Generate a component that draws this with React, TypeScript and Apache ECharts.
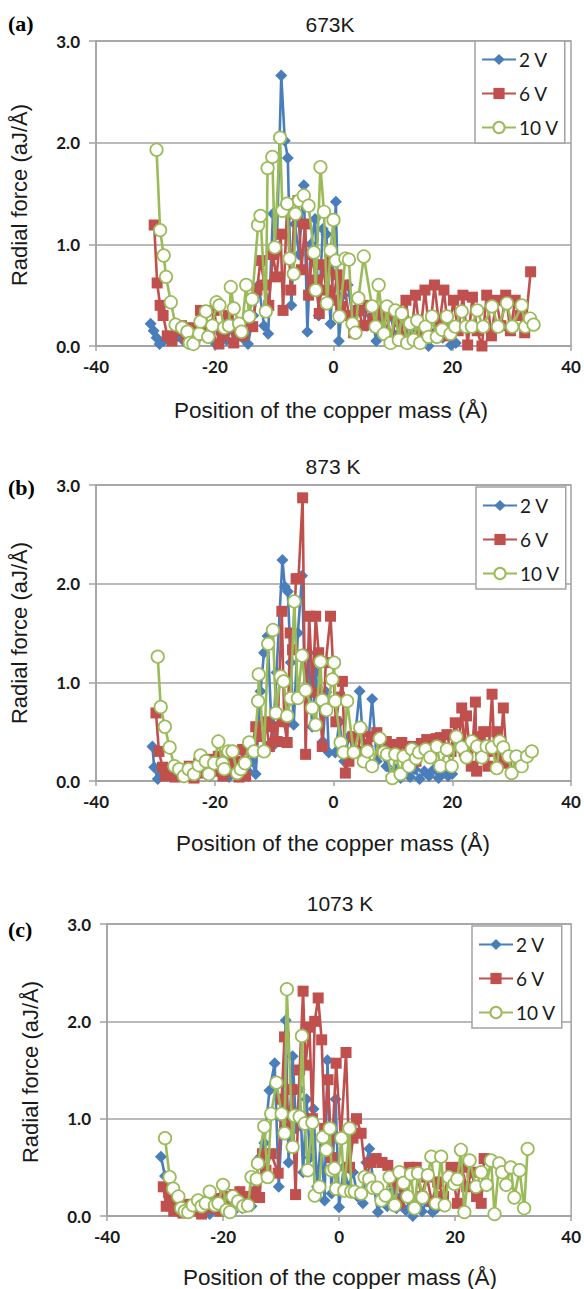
import React, { useEffect, useRef } from "react";
import * as echarts from "echarts";

// ---------- data (x in Å, radial force in aJ/Å) ----------
const legendNames = ["2 V", "6 V", "10 V"];
const panelTitles = ["673K", "873 K", "1073 K"];
const panelLetters = ["(a)", "(b)", "(c)"];
const xTicks = { min: -40, max: 40, step: 20 };
const yTicks = { min: 0, max: 3, step: 1 };

const a2V = [[-30.8,0.22],[-30.3,0.15],[-29.8,0.08],[-29.3,0.02],[-28.6,0.05],[-27.8,0.08],[-27,0.06],[-26.1,0.1],[-25.2,0.05],[-24.3,0.12],[-23.4,0.04],[-22.5,0.1],[-21.6,0.15],[-20.7,0.08],[-19.8,0.02],[-18.9,0.12],[-18,0.06],[-17.1,0.18],[-16.2,0.1],[-15.3,0.08],[-14.4,0.02],[-13.5,0.3],[-12.6,0.6],[-11.7,0.2],[-11.0,0.12],[-10.2,1.3],[-9.5,1.1],[-8.8,2.66],[-8.2,2.02],[-7.7,1.85],[-7.1,0.4],[-6.5,1.2],[-5.8,0.9],[-5.0,1.58],[-4.4,0.14],[-3.8,1.0],[-3.1,1.25],[-2.5,0.3],[-1.8,1.15],[-1.2,1.1],[-0.5,0.22],[0.4,1.42],[0.9,0.05],[1.6,0.5],[2.4,0.6],[3.2,0.3],[4.0,0.45],[4.8,0.35],[5.6,0.2],[6.4,0.3],[7.2,0.05],[8.0,0.25],[8.8,0.15],[9.6,0.3],[10.4,0.1],[11.2,0.2],[12.0,0.05],[12.8,0.15],[13.6,0.25],[14.4,0.1],[15.2,0.18],[16.0,0.0],[16.8,0.12],[17.6,0.2],[18.4,0.08],[19.2,0.15],[19.8,0.01],[20.6,0.03]];
const a6V = [[-30.2,1.19],[-29.7,0.62],[-29.2,0.4],[-28.7,0.3],[-28.0,0.1],[-27.2,0.05],[-26.4,0.15],[-25.6,0.2],[-24.8,0.08],[-24.0,0.18],[-23.2,0.1],[-22.4,0.35],[-21.6,0.2],[-20.8,0.12],[-20.1,0.35],[-19.3,0.02],[-18.5,0.1],[-17.7,0.3],[-16.8,0.03],[-16.0,0.15],[-15.2,0.1],[-14.4,0.25],[-13.6,0.19],[-12.9,0.55],[-12.3,0.84],[-11.6,0.6],[-10.9,0.4],[-10.2,0.9],[-9.6,0.68],[-8.9,1.1],[-8.5,0.35],[-7.8,1.4],[-7.2,0.55],[-6.6,1.3],[-6.0,1.43],[-5.4,0.75],[-4.8,1.2],[-4.2,0.5],[-3.6,0.9],[-3.0,0.65],[-2.4,0.32],[-1.8,0.8],[-1.2,0.55],[-0.6,0.9],[0.0,0.45],[0.6,0.7],[1.2,0.39],[1.8,0.6],[2.6,0.3],[3.4,0.13],[4.2,0.35],[5.0,0.2],[5.8,0.4],[6.6,0.25],[7.4,0.35],[8.2,0.15],[9.0,0.3],[9.8,0.05],[10.6,0.35],[11.4,0.1],[12.2,0.45],[13.0,0.05],[13.8,0.5],[14.6,0.12],[15.4,0.55],[16.2,0.1],[17.0,0.6],[17.8,0.2],[18.6,0.55],[19.4,0.1],[20.2,0.45],[21.0,0.15],[21.8,0.5],[22.6,0.01],[23.4,0.48],[24.2,0.15],[25.0,0.0],[25.8,0.5],[26.6,0.1],[27.4,0.45],[28.2,0.2],[29.0,0.5],[29.8,0.15],[30.6,0.45],[31.4,0.3],[32.2,0.13],[33.2,0.73]];
const a10V = [[-29.8,1.93],[-29.2,1.14],[-28.6,0.89],[-28.2,0.68],[-27.4,0.43],[-26.6,0.21],[-25.5,0.18],[-24.6,0.14],[-24.2,0.03],[-23.6,0.02],[-22.6,0.12],[-22.4,0.24],[-21.5,0.34],[-21.1,0.09],[-20.4,0.2],[-19.7,0.43],[-19.2,0.4],[-18.4,0.18],[-17.6,0.2],[-17.3,0.58],[-16.8,0.37],[-15.9,0.22],[-15.5,0.14],[-14.7,0.6],[-14.2,0.29],[-13.7,0.46],[-12.7,1.19],[-12.3,1.28],[-11.4,0.34],[-11.1,1.75],[-10.3,1.86],[-9.9,0.97],[-9.0,2.05],[-8.6,1.33],[-7.8,1.4],[-7.4,0.86],[-6.7,0.71],[-6.4,1.3],[-5.8,1.43],[-5.0,1.48],[-4.2,1.38],[-3.3,0.92],[-3.0,0.55],[-2.2,1.76],[-1.6,1.32],[-1.1,0.42],[-0.5,0.94],[0.0,1.24],[0.4,0.84],[1.0,0.29],[2.0,0.86],[2.6,0.85],[3.2,0.22],[3.7,0.13],[4.2,0.47],[5.1,0.88],[6.5,0.39],[7.1,0.19],[7.6,0.6],[8.5,0.12],[9.0,0.39],[9.6,0.03],[10.4,0.35],[11.0,0.06],[11.5,0.32],[12.4,0.03],[12.9,0.22],[13.5,0.06],[14.1,0.25],[14.6,0.03],[15.5,0.19],[16.0,0.09],[16.6,0.29],[17.4,0.09],[18.3,0.16],[19.1,0.29],[19.7,0.12],[20.5,0.19],[21.6,0.34],[22.3,0.19],[23.3,0.19],[24.2,0.35],[25.2,0.19],[26.7,0.39],[27.7,0.19],[29.2,0.42],[30.1,0.19],[31.7,0.4],[32.3,0.19],[33.1,0.27],[33.7,0.21]];

const b2V = [[-30.5,0.35],[-30.2,0.14],[-29.6,0.02],[-28.8,0.08],[-28.0,0.12],[-27.2,0.05],[-26.4,0.15],[-25.6,0.1],[-24.8,0.06],[-24.0,0.12],[-23.2,0.04],[-22.4,0.1],[-21.6,0.15],[-20.8,0.05],[-20.0,0.18],[-19.2,0.08],[-18.4,0.12],[-17.6,0.04],[-16.8,0.1],[-16.0,0.06],[-15.2,0.15],[-14.4,0.1],[-13.7,0.2],[-13.1,0.07],[-12.3,0.91],[-11.7,1.3],[-11.1,1.47],[-10.3,0.35],[-9.6,1.1],[-8.6,2.24],[-8.2,1.97],[-7.7,1.92],[-7.2,1.2],[-6.7,0.57],[-6.0,1.5],[-5.3,2.08],[-4.8,0.9],[-4.2,1.3],[-3.6,0.55],[-3.0,1.1],[-2.5,0.86],[-1.8,0.4],[-1.2,0.9],[-0.8,0.29],[0.3,0.29],[1.0,0.6],[1.8,0.2],[2.6,0.45],[3.4,0.3],[4.4,0.91],[5.2,0.2],[5.8,0.35],[6.5,0.83],[7.3,0.2],[8.1,0.3],[8.9,0.15],[9.7,0.05],[10.5,0.12],[11.3,0.03],[12.1,0.1],[12.9,0.04],[13.7,0.12],[14.5,0.02],[15.3,0.1],[16.1,0.05],[16.9,0.12],[17.7,0.03],[18.5,0.08],[19.3,0.05],[20.0,0.07]];
const b6V = [[-29.9,0.69],[-29.4,0.3],[-28.8,0.14],[-28.3,0.05],[-27.5,0.1],[-26.7,0.04],[-25.9,0.12],[-25.1,0.06],[-24.3,0.15],[-23.5,0.03],[-22.7,0.18],[-21.9,0.08],[-21.0,0.22],[-20.2,0.1],[-19.4,0.25],[-18.6,0.05],[-18.2,0.25],[-17.4,0.1],[-16.6,0.2],[-15.9,0.04],[-15.3,0.32],[-14.8,0.05],[-14.2,0.35],[-13.7,0.35],[-13.1,0.55],[-12.3,0.45],[-11.4,0.6],[-10.8,0.35],[-10.2,0.55],[-9.5,0.4],[-8.7,1.72],[-8.3,0.6],[-7.8,0.39],[-7.3,1.5],[-6.9,1.33],[-6.3,2.05],[-5.9,2.05],[-5.2,2.87],[-4.7,0.27],[-4.1,1.67],[-3.5,0.9],[-3.0,1.67],[-2.5,1.3],[-1.9,0.35],[-1.3,1.2],[-0.5,1.67],[0.4,0.6],[1.0,0.85],[1.5,1.01],[2.0,0.08],[2.6,0.2],[3.3,0.45],[4.0,0.3],[4.8,0.5],[5.6,0.35],[6.4,0.45],[7.3,0.49],[8.1,0.3],[8.9,0.4],[9.9,0.37],[10.7,0.3],[11.5,0.39],[12.3,0.25],[13.1,0.35],[13.9,0.2],[14.8,0.38],[15.7,0.42],[16.5,0.3],[17.3,0.43],[18.0,0.44],[19.1,0.47],[19.8,0.3],[20.5,0.59],[21.1,0.4],[21.6,0.74],[22.0,0.3],[22.4,0.66],[23.2,0.15],[23.9,0.8],[24.1,0.1],[24.6,0.45],[25.3,0.5],[26.0,0.15],[26.7,0.88],[27.1,0.3],[27.5,0.5],[28.0,0.2],[28.6,0.74],[29.2,0.18]];
const b10V = [[-29.6,1.26],[-29.1,0.75],[-28.4,0.55],[-27.6,0.34],[-26.8,0.15],[-26.0,0.12],[-25.2,0.05],[-24.4,0.12],[-23.5,0.07],[-22.7,0.16],[-22.4,0.26],[-21.5,0.2],[-21.0,0.07],[-20.1,0.18],[-19.4,0.4],[-18.7,0.18],[-18.4,0.12],[-17.7,0.3],[-17.0,0.3],[-16.2,0.08],[-15.6,0.12],[-14.9,0.18],[-14.2,0.39],[-13.4,0.3],[-12.7,0.81],[-12.6,1.08],[-11.7,0.3],[-11.0,1.39],[-10.2,1.53],[-9.7,0.69],[-8.9,1.06],[-8.4,1.01],[-7.8,0.66],[-7.2,0.84],[-6.6,1.82],[-6.0,0.84],[-5.3,1.27],[-4.7,0.92],[-3.6,0.74],[-3.0,0.57],[-2.2,1.21],[-1.9,0.82],[-1.2,0.72],[-0.2,1.03],[0.1,1.2],[0.3,0.81],[1.2,0.39],[1.7,0.29],[2.3,0.81],[3.4,0.29],[4.5,0.54],[5.1,0.2],[5.7,0.3],[6.5,0.15],[7.8,0.43],[8.5,0.29],[9.0,0.27],[9.9,0.03],[10.4,0.27],[11.3,0.07],[11.8,0.25],[12.7,0.15],[13.2,0.32],[13.9,0.23],[14.4,0.29],[15.5,0.32],[16.3,0.24],[17.4,0.35],[18.0,0.15],[19.1,0.32],[19.9,0.15],[20.7,0.45],[21.6,0.34],[22.4,0.24],[23.3,0.4],[24.2,0.35],[25.0,0.24],[25.8,0.35],[26.7,0.34],[27.5,0.13],[28.0,0.4],[28.6,0.34],[29.5,0.25],[30.0,0.08],[30.8,0.25],[31.7,0.15],[32.6,0.25],[33.4,0.3]];

const c2V = [[-30.7,0.61],[-30.0,0.41],[-29.4,0.2],[-28.7,0.1],[-27.9,0.05],[-27.1,0.12],[-26.3,0.03],[-25.5,0.1],[-24.7,0.15],[-23.9,0.05],[-23.1,0.12],[-22.3,0.02],[-21.5,0.1],[-20.7,0.18],[-19.9,0.06],[-19.1,0.12],[-18.3,0.04],[-17.5,0.15],[-16.7,0.08],[-15.9,0.2],[-15.1,0.1],[-14.4,0.35],[-13.7,0.6],[-12.9,0.75],[-12.0,1.29],[-11.1,1.57],[-10.4,0.3],[-9.8,1.0],[-9.2,2.01],[-8.7,0.55],[-8.0,1.64],[-7.4,0.9],[-6.8,1.3],[-6.2,0.45],[-5.6,1.2],[-5.0,0.6],[-4.4,1.1],[-3.8,0.3],[-3.1,0.8],[-2.5,0.16],[-2.0,1.6],[-1.3,0.23],[-0.6,1.2],[0.0,0.09],[0.8,0.5],[1.6,0.3],[2.4,0.45],[3.2,0.2],[4.1,0.13],[4.7,0.55],[5.2,0.69],[6.0,0.3],[6.7,0.04],[7.5,0.2],[8.3,0.1],[9.1,0.25],[9.9,0.08],[10.7,0.2],[11.5,0.06],[12.3,0.15],[12.7,0.0],[13.5,0.12],[14.3,0.05],[15.1,0.15],[16.1,0.04],[16.8,0.08]];
const c6V = [[-30.3,0.3],[-29.8,0.1],[-29.2,0.2],[-28.5,0.05],[-27.7,0.15],[-26.9,0.03],[-26.1,0.12],[-25.3,0.05],[-24.5,0.1],[-23.7,0.02],[-22.9,0.15],[-22.1,0.08],[-21.3,0.18],[-20.5,0.05],[-19.7,0.2],[-18.9,0.1],[-18.1,0.22],[-17.1,0.25],[-16.3,0.1],[-15.5,0.2],[-14.6,0.25],[-13.7,0.19],[-13.2,0.64],[-12.6,0.47],[-11.7,0.64],[-10.5,0.44],[-9.9,1.2],[-9.4,1.84],[-8.8,0.9],[-8.1,1.3],[-7.5,0.22],[-6.8,1.5],[-6.2,2.31],[-5.8,1.55],[-5.1,1.94],[-4.6,1.0],[-4.2,2.0],[-3.6,2.24],[-3.0,1.81],[-2.5,0.9],[-1.9,1.4],[-1.3,0.6],[-0.5,1.57],[0.3,0.8],[1.2,1.68],[1.8,0.5],[2.4,0.8],[3.0,1.0],[3.8,0.85],[4.6,0.4],[5.5,0.55],[6.4,0.59],[7.4,0.55],[8.4,0.52],[9.4,0.35],[10.4,0.13],[11.2,0.3],[12.1,0.5],[13.3,0.5],[14.2,0.2],[15.1,0.4],[16.0,0.15],[17.0,0.35],[18.0,0.2],[19.3,0.5],[20.4,0.13],[21.1,0.5],[22.0,0.3],[22.9,0.45],[23.7,0.2],[24.5,0.13],[25.0,0.59]];
const c10V = [[-30.0,0.8],[-29.2,0.4],[-28.6,0.28],[-27.7,0.2],[-27.2,0.08],[-26.6,0.05],[-26.0,0.04],[-25.2,0.11],[-24.3,0.16],[-23.7,0.1],[-23.0,0.13],[-22.3,0.25],[-21.4,0.11],[-20.8,0.13],[-20.0,0.32],[-19.4,0.06],[-18.8,0.04],[-18.3,0.2],[-17.4,0.15],[-16.5,0.1],[-15.7,0.11],[-15.1,0.4],[-14.2,0.38],[-14.0,0.54],[-12.9,0.92],[-12.3,0.4],[-11.7,1.05],[-10.8,1.37],[-9.9,1.05],[-9.4,0.85],[-9.0,2.33],[-8.0,0.71],[-7.7,1.03],[-6.8,1.02],[-6.4,1.85],[-5.9,0.95],[-5.4,0.47],[-4.6,0.96],[-4.2,0.21],[-3.4,0.3],[-2.8,0.81],[-2.2,0.68],[-1.6,0.9],[-1.3,0.47],[-0.8,0.49],[-0.5,0.28],[0.4,0.8],[0.9,0.26],[1.8,0.9],[2.1,0.25],[2.7,0.25],[3.8,0.23],[4.4,0.4],[5.2,0.38],[5.8,0.29],[6.6,0.29],[7.3,0.16],[8.0,0.21],[8.7,0.4],[9.6,0.11],[10.4,0.45],[11.1,0.34],[11.8,0.2],[12.4,0.43],[13.0,0.08],[13.6,0.44],[14.4,0.19],[15.3,0.42],[15.9,0.61],[16.7,0.13],[17.6,0.61],[18.2,0.11],[18.9,0.4],[19.9,0.33],[20.4,0.38],[21.0,0.68],[21.6,0.04],[22.5,0.57],[23.6,0.3],[24.5,0.45],[25.4,0.32],[26.2,0.57],[26.8,0.02],[27.6,0.54],[28.1,0.45],[28.8,0.32],[29.6,0.5],[30.2,0.19],[31.1,0.47],[31.9,0.08],[32.5,0.69]];

const panelData = [
  [a2V, a6V, a10V],
  [b2V, b6V, b10V],
  [c2V, c6V, c10V],
];

// ---------- layout / style ----------
const BLUE = "#4a7ebb";
const RED = "#c0504d";
const GREEN = "#9bbb59";
const GRAY = "#a3a3a3";
const TXT = "#1a1a1a";

const grids = [
  { left: 96, top: 41, width: 475, height: 305 },
  { left: 96, top: 485, width: 475, height: 296 },
  { left: 107, top: 924, width: 465, height: 292 },
];
const legendPos = [
  { left: 475, top: 41 },
  { left: 476, top: 487 },
  { left: 472, top: 926 },
];
const titlePos = [
  { x: 330, y: 24 },
  { x: 333, y: 466 },
  { x: 340, y: 903 },
];
const letterPos = [
  { x: 8, y: 23 },
  { x: 8, y: 487 },
  { x: 8, y: 929 },
];
const xNamePos = [
  { x: 331, y: 410 },
  { x: 333, y: 843 },
  { x: 340, y: 1277 },
];
const yNamePos = [
  { x: 19, y: 195 },
  { x: 19, y: 633 },
  { x: 30, y: 1072 },
];

export default function App() {
  const ref = useRef<HTMLDivElement>(null);
  useEffect(() => {
    if (!ref.current) return;
    const chart = echarts.init(ref.current, null, { renderer: "svg" });

    const series: any[] = [];
    panelData.forEach((sets, p) => {
      const styles = [
        { name: legendNames[0], color: BLUE, symbol: "diamond", size: 12, fill: BLUE },
        { name: legendNames[1], color: RED, symbol: "rect", size: 11, fill: RED },
        { name: legendNames[2], color: GREEN, symbol: "circle", size: 12.5, fill: "#ffffff" },
      ];
      sets.forEach((d, s) => {
        const st = styles[s];
        series.push({
          type: "line",
          name: st.name,
          xAxisIndex: p,
          yAxisIndex: p,
          data: d,
          symbol: st.symbol,
          symbolSize: st.size,
          showAllSymbol: true,
          lineStyle: { color: st.color, width: 2.6 },
          itemStyle: {
            color: st.fill,
            borderColor: st.color,
            borderWidth: s === 2 ? 1.7 : 0,
          },
          emphasis: { disabled: true },
          z: 2 + s,
        });
      });
    });

    const graphics: any[] = [];
    for (let p = 0; p < 3; p++) {
      graphics.push({
        type: "text",
        x: titlePos[p].x,
        y: titlePos[p].y,
        style: {
          text: panelTitles[p],
          font: "21px 'Liberation Sans', Arial, sans-serif",
          fill: TXT,
          textAlign: "center",
          textVerticalAlign: "middle",
        },
      });
      graphics.push({
        type: "text",
        x: letterPos[p].x,
        y: letterPos[p].y,
        style: {
          text: panelLetters[p],
          font: "bold 22px 'Liberation Serif', 'Times New Roman', serif",
          fill: "#000",
          textAlign: "left",
          textVerticalAlign: "middle",
        },
      });
      graphics.push({
        type: "text",
        x: xNamePos[p].x,
        y: xNamePos[p].y,
        style: {
          text: "Position of the copper mass (Å)",
          font: "22.5px 'Liberation Sans', Arial, sans-serif",
          fill: TXT,
          textAlign: "center",
          textVerticalAlign: "middle",
        },
      });
      graphics.push({
        type: "text",
        x: yNamePos[p].x,
        y: yNamePos[p].y,
        rotation: Math.PI / 2,
        style: {
          text: "Radial force (aJ/Å)",
          font: "22px 'Liberation Sans', Arial, sans-serif",
          fill: TXT,
          textAlign: "center",
          textVerticalAlign: "middle",
        },
      });
    }

    const option: any = {
      animation: false,
      backgroundColor: "#ffffff",
      grid: grids.map((g) => ({
        ...g,
        show: true,
        borderColor: GRAY,
        borderWidth: 1.5,
        backgroundColor: "transparent",
      })),
      xAxis: grids.map((_, i) => ({
        type: "value",
        gridIndex: i,
        min: xTicks.min,
        max: xTicks.max,
        interval: xTicks.step,
        axisLine: { show: true, onZero: false, lineStyle: { color: GRAY, width: 1.5 } },
        axisTick: { show: true, length: 5, lineStyle: { color: GRAY, width: 1.5 } },
        splitLine: { show: false },
        axisLabel: {
          margin: 12,
          fontFamily: "Lato, 'Open Sans', sans-serif",
          fontWeight: "bold",
          fontSize: 17,
          color: TXT,
        },
      })),
      yAxis: grids.map((_, i) => ({
        type: "value",
        gridIndex: i,
        min: yTicks.min,
        max: yTicks.max,
        interval: yTicks.step,
        axisLine: { show: true, onZero: false, lineStyle: { color: GRAY, width: 1.5 } },
        axisTick: { show: true, length: 7, lineStyle: { color: GRAY, width: 1.5 } },
        splitLine: { show: true, lineStyle: { color: GRAY, width: 1.5 } },
        axisLabel: {
          margin: 16,
          formatter: (v: number) => v.toFixed(1),
          fontFamily: "Lato, 'Open Sans', sans-serif",
          fontWeight: "bold",
          fontSize: 17,
          color: TXT,
        },
      })),
      legend: legendPos.map((lp) => ({
        data: legendNames,
        orient: "vertical",
        left: lp.left,
        top: lp.top,
        itemGap: 15,
        itemWidth: 34,
        itemHeight: 14,
        padding: [9, 6, 6, 6],
        backgroundColor: "#ffffff",
        borderColor: GRAY,
        borderWidth: 1.5,
        selectedMode: false,
        textStyle: {
          fontFamily: "Lato, 'Open Sans', sans-serif",
          fontSize: 19,
          color: TXT,
          padding: [0, 0, 0, -2],
        },
        z: 10,
      })),
      series,
      graphic: graphics,
    };
    chart.setOption(option);
    return () => chart.dispose();
  }, []);

  return (
    <div
      ref={ref}
      style={{ position: "fixed", left: 0, top: 0, width: 584, height: 1289, background: "#fff" }}
    />
  );
}
